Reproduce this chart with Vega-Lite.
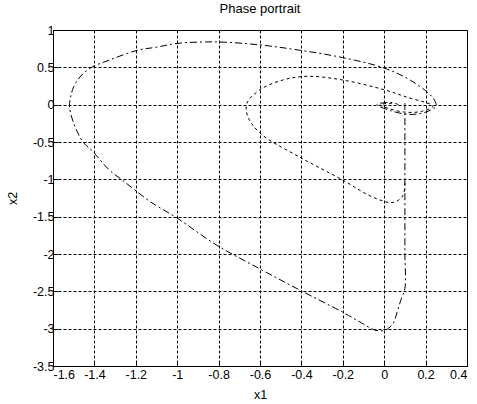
{
  "$schema": "https://vega.github.io/schema/vega-lite/v6.json",
  "width": 414,
  "height": 336,
  "autosize": "none",
  "padding": {"left": 53, "top": 30, "right": 10, "bottom": 38},
  "background": "white",
  "title": {"text": "Phase portrait", "fontSize": 13, "fontWeight": "normal", "font": "Liberation Sans", "color": "black", "offset": 8},
  "config": {
    "view": {"stroke": "black", "strokeWidth": 1},
    "axis": {
      "labelFont": "Liberation Sans", "labelFontSize": 12.5, "labelColor": "black",
      "titleFont": "Liberation Sans", "titleFontSize": 12.5, "titleFontWeight": "normal", "titleColor": "black",
      "domainColor": "black", "tickColor": "black", "tickSize": -5,
      "gridColor": "black", "gridDash": [3, 2], "gridOpacity": 1, "gridWidth": 1,
      "labelExpr": "replace(datum.label, '\u2212', '-')"
    }
  },
  "data": {"values": [
    {"curve": "outer", "i": 0, "x1": 0.1, "x2": 0.02},
    {"curve": "outer", "i": 1, "x1": 0.1, "x2": -0.5},
    {"curve": "outer", "i": 2, "x1": 0.1, "x2": -1.0},
    {"curve": "outer", "i": 3, "x1": 0.1, "x2": -1.5},
    {"curve": "outer", "i": 4, "x1": 0.1, "x2": -2.0},
    {"curve": "outer", "i": 5, "x1": 0.1, "x2": -2.46},
    {"curve": "outer", "i": 6, "x1": 0.08, "x2": -2.62},
    {"curve": "outer", "i": 7, "x1": 0.062, "x2": -2.78},
    {"curve": "outer", "i": 8, "x1": 0.043, "x2": -2.93},
    {"curve": "outer", "i": 9, "x1": 0.004, "x2": -3.02},
    {"curve": "outer", "i": 10, "x1": -0.044, "x2": -3.02},
    {"curve": "outer", "i": 11, "x1": -0.117, "x2": -2.91},
    {"curve": "outer", "i": 12, "x1": -0.2, "x2": -2.78},
    {"curve": "outer", "i": 13, "x1": -0.41, "x2": -2.48},
    {"curve": "outer", "i": 14, "x1": -0.6, "x2": -2.2},
    {"curve": "outer", "i": 15, "x1": -0.81, "x2": -1.88},
    {"curve": "outer", "i": 16, "x1": -1.0, "x2": -1.52},
    {"curve": "outer", "i": 17, "x1": -1.13, "x2": -1.3},
    {"curve": "outer", "i": 18, "x1": -1.21, "x2": -1.13},
    {"curve": "outer", "i": 19, "x1": -1.27, "x2": -1.0},
    {"curve": "outer", "i": 20, "x1": -1.33, "x2": -0.87},
    {"curve": "outer", "i": 21, "x1": -1.41, "x2": -0.62},
    {"curve": "outer", "i": 22, "x1": -1.455, "x2": -0.5},
    {"curve": "outer", "i": 23, "x1": -1.5, "x2": -0.25},
    {"curve": "outer", "i": 24, "x1": -1.52, "x2": -0.03},
    {"curve": "outer", "i": 25, "x1": -1.515, "x2": 0.1},
    {"curve": "outer", "i": 26, "x1": -1.5, "x2": 0.24},
    {"curve": "outer", "i": 27, "x1": -1.47, "x2": 0.37},
    {"curve": "outer", "i": 28, "x1": -1.42, "x2": 0.49},
    {"curve": "outer", "i": 29, "x1": -1.325, "x2": 0.6},
    {"curve": "outer", "i": 30, "x1": -1.19, "x2": 0.73},
    {"curve": "outer", "i": 31, "x1": -1.1, "x2": 0.77},
    {"curve": "outer", "i": 32, "x1": -1.0, "x2": 0.82},
    {"curve": "outer", "i": 33, "x1": -0.81, "x2": 0.84},
    {"curve": "outer", "i": 34, "x1": -0.6, "x2": 0.8},
    {"curve": "outer", "i": 35, "x1": -0.41, "x2": 0.73},
    {"curve": "outer", "i": 36, "x1": -0.2, "x2": 0.63},
    {"curve": "outer", "i": 37, "x1": 0.0, "x2": 0.49},
    {"curve": "outer", "i": 38, "x1": 0.125, "x2": 0.33},
    {"curve": "outer", "i": 39, "x1": 0.236, "x2": 0.09},
    {"curve": "outer", "i": 40, "x1": 0.25, "x2": -0.02},
    {"curve": "outer", "i": 41, "x1": 0.2, "x2": -0.1},
    {"curve": "outer", "i": 42, "x1": 0.12, "x2": -0.13},
    {"curve": "outer", "i": 43, "x1": 0.03, "x2": -0.08},
    {"curve": "outer", "i": 44, "x1": -0.035, "x2": 0.0},
    {"curve": "outer", "i": 45, "x1": 0.03, "x2": 0.03},
    {"curve": "outer", "i": 46, "x1": 0.07, "x2": 0.0},
    {"curve": "inner", "i": 0, "x1": 0.1, "x2": -1.05},
    {"curve": "inner", "i": 1, "x1": 0.09, "x2": -1.22},
    {"curve": "inner", "i": 2, "x1": 0.043, "x2": -1.31},
    {"curve": "inner", "i": 3, "x1": -0.054, "x2": -1.24},
    {"curve": "inner", "i": 4, "x1": -0.2, "x2": -1.01},
    {"curve": "inner", "i": 5, "x1": -0.41, "x2": -0.7},
    {"curve": "inner", "i": 6, "x1": -0.6, "x2": -0.38},
    {"curve": "inner", "i": 7, "x1": -0.66, "x2": -0.15},
    {"curve": "inner", "i": 8, "x1": -0.663, "x2": 0.02},
    {"curve": "inner", "i": 9, "x1": -0.6, "x2": 0.2},
    {"curve": "inner", "i": 10, "x1": -0.49, "x2": 0.33},
    {"curve": "inner", "i": 11, "x1": -0.37, "x2": 0.38},
    {"curve": "inner", "i": 12, "x1": -0.2, "x2": 0.33},
    {"curve": "inner", "i": 13, "x1": 0.0, "x2": 0.2},
    {"curve": "inner", "i": 14, "x1": 0.11, "x2": 0.1},
    {"curve": "inner", "i": 15, "x1": 0.236, "x2": -0.02},
    {"curve": "inner", "i": 16, "x1": 0.18, "x2": -0.09},
    {"curve": "inner", "i": 17, "x1": 0.1, "x2": -0.1},
    {"curve": "inner", "i": 18, "x1": 0.02, "x2": -0.05},
    {"curve": "inner", "i": 19, "x1": -0.02, "x2": 0.0},
    {"curve": "inner", "i": 20, "x1": 0.04, "x2": 0.02}
  ]},
  "encoding": {
    "x": {"field": "x1", "type": "quantitative", "scale": {"domain": [-1.6, 0.4], "nice": false, "zero": false},
          "axis": {"title": "x1", "values": [-1.6, -1.4, -1.2, -1, -0.8, -0.6, -0.4, -0.2, 0, 0.2, 0.4], "format": "~g", "labelPadding": 7, "titlePadding": 8}},
    "y": {"field": "x2", "type": "quantitative", "scale": {"domain": [-3.5, 1], "nice": false, "zero": false},
          "axis": {"title": "x2", "values": [-3.5, -3, -2.5, -2, -1.5, -1, -0.5, 0, 0.5, 1], "format": "~g", "labelPadding": 4, "titlePadding": 13}},
    "order": {"field": "i", "type": "quantitative"}
  },
  "layer": [
    {
      "transform": [{"filter": "datum.curve === 'outer'"}],
      "mark": {"type": "line", "color": "black", "strokeWidth": 1, "strokeDash": [7, 3, 2, 3], "interpolate": "catmull-rom"}
    },
    {
      "transform": [{"filter": "datum.curve === 'inner'"}],
      "mark": {"type": "line", "color": "black", "strokeWidth": 1, "strokeDash": [3, 3], "interpolate": "catmull-rom"}
    }
  ]
}
